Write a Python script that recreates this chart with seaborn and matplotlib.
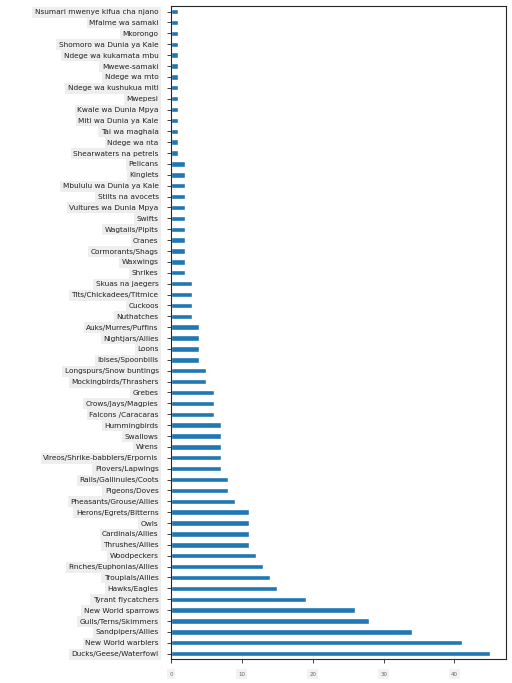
import matplotlib
matplotlib.use("Agg")
import matplotlib.pyplot as plt
import seaborn as sns
import pandas as pd

# bird categories, top of chart first (smallest counts)
categories = [
    "Nsumari mwenye kifua cha njano", "Mfalme wa samaki", "Mkorongo",
    "Shomoro wa Dunia ya Kale", "Ndege wa kukamata mbu", "Mwewe-samaki",
    "Ndege wa mto", "Ndege wa kushukua miti", "Mwepesi",
    "Kwale wa Dunia Mpya", "Miti wa Dunia ya Kale", "Tai wa maghala",
    "Ndege wa nta", "Shearwaters na petrels",
    "Pelicans", "Kinglets", "Mbululu wa Dunia ya Kale", "Stilts na avocets",
    "Vultures wa Dunia Mpya", "Swifts", "Wagtails/Pipits", "Cranes",
    "Cormorants/Shags", "Waxwings", "Shrikes",
    "Skuas na jaegers", "Tits/Chickadees/Titmice", "Cuckoos", "Nuthatches",
    "Auks/Murres/Puffins", "Nightjars/Allies", "Loons", "Ibises/Spoonbills",
    "Longspurs/Snow buntings", "Mockingbirds/Thrashers",
    "Grebes", "Crows/Jays/Magpies", "Falcons /Caracaras",
    "Hummingbirds", "Swallows", "Wrens", "Vireos/Shrike-babblers/Erpornis",
    "Plovers/Lapwings", "Rails/Gallinules/Coots", "Pigeons/Doves",
    "Pheasants/Grouse/Allies", "Herons/Egrets/Bitterns", "Owls",
    "Cardinals/Allies", "Thrushes/Allies", "Woodpeckers",
    "Finches/Euphonias/Allies", "Troupials/Allies", "Hawks/Eagles",
    "Tyrant flycatchers", "New World sparrows", "Gulls/Terns/Skimmers",
    "Sandpipers/Allies", "New World warblers", "Ducks/Geese/Waterfowl",
]
counts = [
    1, 1, 1, 1, 1, 1, 1, 1, 1, 1, 1, 1, 1, 1,
    2, 2, 2, 2, 2, 2, 2, 2, 2, 2, 2,
    3, 3, 3, 3,
    4, 4, 4, 4,
    5, 5,
    6, 6, 6,
    7, 7, 7, 7, 7,
    8, 8,
    9, 11, 11, 11, 11, 12, 13, 14, 15,
    19, 26, 28, 34, 41, 45,
]
xticks = [0, 10, 20, 30, 40]

df = pd.DataFrame({"Category": categories, "Count": counts})

sns.set_style("ticks")
plt.rcParams["font.family"] = ["DejaVu Sans"]

fig = plt.figure(figsize=(5.12, 6.83), dpi=100)
ax = fig.add_axes([0.334, 0.035, 0.654, 0.956])

sns.barplot(data=df, x="Count", y="Category", orient="h", order=categories,
            color="#1f77b4", saturation=1, width=0.5, ax=ax)

ax.set_xlim(0, max(counts) * 1.05)
ax.set_xticks(xticks)
ax.set_xlabel("")
ax.set_ylabel("")
for s in ax.spines.values():
    s.set_linewidth(0.8)
    s.set_visible(True)

ax.tick_params(axis="y", length=3, width=0.6, labelsize=5.3, pad=6,
               labelcolor="#222222")
ax.tick_params(axis="x", length=3, width=0.6, labelsize=4, pad=6,
               labelcolor="#666666")
for lab in ax.get_yticklabels():
    lab.set_bbox(dict(facecolor="#eeeeee", edgecolor="none", pad=1.8))
for lab in ax.get_xticklabels():
    lab.set_bbox(dict(facecolor="#f2f2f2", edgecolor="none", pad=1.5))

fig.savefig("out.png", dpi=100)
